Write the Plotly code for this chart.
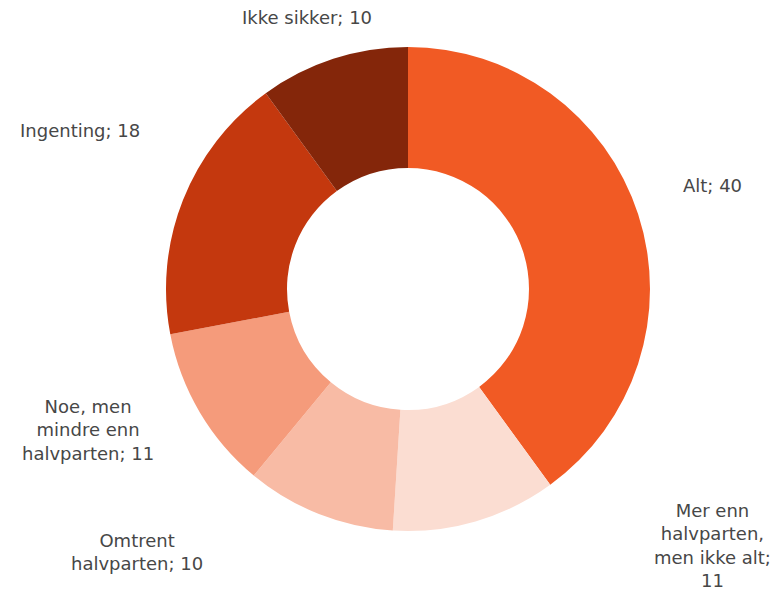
import plotly.graph_objects as go

# Answer categories and shares (percent)
categories = [
    "Alt",
    "Mer enn halvparten, men ikke alt",
    "Omtrent halvparten",
    "Noe, men mindre enn halvparten",
    "Ingenting",
    "Ikke sikker",
]
values = [40, 11, 10, 11, 18, 10]
colors = ["#F15A24", "#FBDDD2", "#F8BBA5", "#F59B7B", "#C4380E", "#84260A"]

# Wrapped label lines as shown in the chart
label_lines = [
    ["Alt; 40"],
    ["Mer enn", "halvparten,", "men ikke alt;", "11"],
    ["Omtrent", "halvparten; 10"],
    ["Noe, men", "mindre enn", "halvparten; 11"],
    ["Ingenting; 18"],
    ["Ikke sikker; 10"],
]
# Label anchor positions in pixels (x, y from top)
label_pos = [(712, 185), (712, 545), (137, 552), (88, 430), (80, 130), (307, 18)]

W, H = 778, 591

fig = go.Figure(
    go.Pie(
        labels=categories,
        values=values,
        hole=0.5,
        sort=False,
        direction="clockwise",
        rotation=0,
        marker=dict(colors=colors, line=dict(width=0)),
        textinfo="none",
        hoverinfo="label+value",
        domain=dict(x=[166 / W, 650 / W], y=[(H - 531) / H, (H - 47) / H]),
    )
)

for lines, (px_, py_) in zip(label_lines, label_pos):
    fig.add_annotation(
        x=px_ / W,
        y=1 - py_ / H,
        xref="paper",
        yref="paper",
        text="<br>".join(lines),
        showarrow=False,
        align="center",
        xanchor="center",
        yanchor="middle",
        font=dict(family="DejaVu Sans, sans-serif", size=18, color="#474747"),
    )

fig.update_layout(
    width=W,
    height=H,
    margin=dict(l=0, r=0, t=0, b=0),
    showlegend=False,
    paper_bgcolor="white",
    plot_bgcolor="white",
)

# drop the default page margin so the chart sits at the window's corner
fig.write_html(
    "out.html",
    config={"displayModeBar": False},
    post_script="document.body.style.margin='0';",
)
